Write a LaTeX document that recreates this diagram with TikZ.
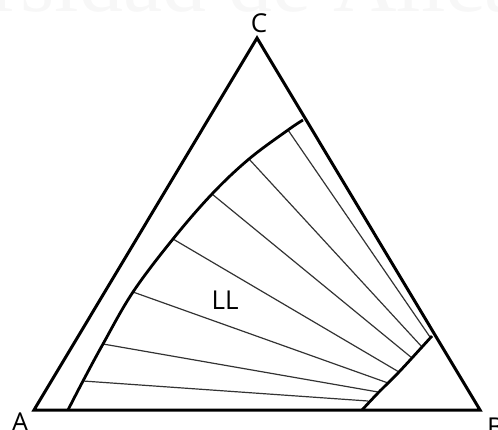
\documentclass[tikz,border=0pt]{standalone}
\usepackage{fontspec}
\setmainfont{Open Sans}
\newfontfamily\wmfont{Liberation Serif}
\begin{document}
\begin{tikzpicture}[x=1pt,y=-1pt,
  side/.style={line width=3pt,line join=miter},
  curveline/.style={line width=2.8pt},
  tieline/.style={line width=1.2pt,black!80},
  lbl/.style={font=\fontsize{26}{26}\selectfont,inner sep=0pt}]
\useasboundingbox (0,0) rectangle (498,430);
% watermark
\node[anchor=base west,inner sep=0pt,text=black!3,font=\wmfont\fontsize{88}{88}\selectfont] (wm) at (-224,12) {Universidad de Alicante};
% vertices
\coordinate (A) at (34,410);
\coordinate (B) at (480,410);
\coordinate (C) at (257,38);
% left (raffinate) curve points
\coordinate (L1) at (83,381);
\coordinate (L2) at (103,344);
\coordinate (L3) at (133,292);
\coordinate (L4) at (173,239);
\coordinate (L5) at (212,194);
\coordinate (L6) at (249,159);
\coordinate (L7) at (288,130);
% right (extract) curve points
\coordinate (R1) at (368,401);
\coordinate (R2) at (378,392);
\coordinate (R3) at (388,383);
\coordinate (R4) at (399,372);
\coordinate (R5) at (412,358);
\coordinate (R6) at (422,347);
\coordinate (R7) at (430,337);
% tie lines
\foreach \i in {1,...,7} \draw[tieline] (L\i) -- (R\i);
% triangle
\draw[side] (A) -- (B) -- (C) -- cycle;
% curves
\draw[curveline] plot[smooth,tension=0.6] coordinates {(68,410) (83,381) (103,344) (133,292) (173,239) (212,194) (249,159) (288,130) (303,120)};
\draw[curveline] plot[smooth,tension=0.5] coordinates {(362,410) (378,393) (399,372) (422,347) (432,336)};
% labels
\node[lbl,anchor=base] (lC) at (259,33) {C};
\node[lbl,anchor=base] (lA) at (20,431) {A};
\node[lbl,anchor=base west] (lB) at (487,436) {B};
\node[lbl] (lLL) at (225,300) {LL};
\end{tikzpicture}
\end{document}
